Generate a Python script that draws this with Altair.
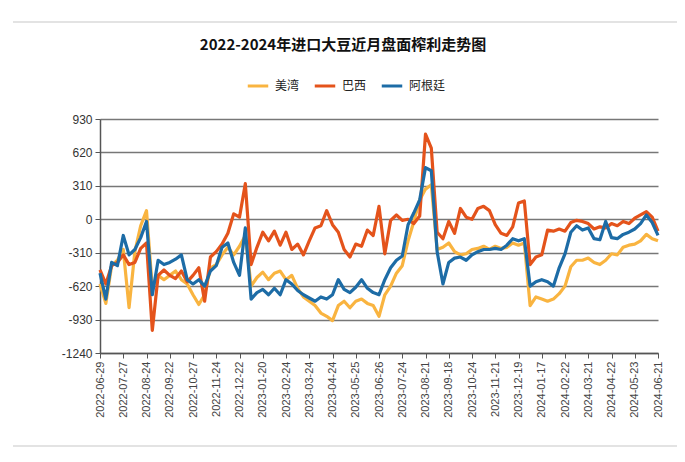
import altair as alt
import pandas as pd

# x positions: trading-day index, one sample every 5 trading days
step = 5
date_labels = ["2022-06-29", "2022-07-27", "2022-08-24", "2022-09-22", "2022-10-27",
               "2022-11-24", "2022-12-22", "2023-01-20", "2023-02-24", "2023-03-24",
               "2023-04-24", "2023-05-25", "2023-06-26", "2023-07-24", "2023-08-21",
               "2023-09-18", "2023-10-24", "2023-11-21", "2023-12-19", "2024-01-17",
               "2024-02-22", "2024-03-21", "2024-04-22", "2024-05-23", "2024-06-21"]

us_gulf = [-600, -780, -430, -380, -280, -820, -300, -60, 80, -640,
           -520, -560, -520, -480, -560, -600, -700, -790, -700, -450,
           -420, -330, -260, -330, -250, -150, -620, -540, -490, -560,
           -500, -480, -560, -520, -640, -720, -760, -800, -870, -900,
           -940, -800, -760, -820, -760, -740, -780, -800, -900, -700,
           -620, -500, -430, -200, -20, 180, 280, 320, -280, -260,
           -220, -300, -330, -320, -280, -270, -250, -280, -250, -270,
           -260, -220, -240, -220, -800, -720, -740, -760, -740, -690,
           -620, -440, -380, -380, -360, -400, -420, -380, -320, -330,
           -260, -240, -230, -200, -140, -180, -200]

brazil = [-470, -600, -430, -400, -330, -420, -400, -270, -220, -1030,
          -520, -470, -520, -550, -480, -580, -520, -450, -760, -350,
          -300, -230, -130, 50, 20, 330, -420, -260, -120, -200,
          -110, -240, -120, -280, -230, -330, -200, -80, -60, 80,
          -50, -120, -280, -350, -230, -250, -100, -150, 120, -320,
          -10, 40, -10, 0, -40, 30, 790, 660, -120, -180,
          -20, -130, 100, 20, 0, 100, 120, 80, -50, -130,
          -150, -70, 150, 170, -420, -350, -330, -100, -110, -90,
          -110, -30, -10, -20, -40, -90, -70, -80, -40, -60,
          -20, -40, 10, 40, 70, 20, -110]

argentina = [-500, -740, -400, -430, -150, -330, -280, -170, -20, -700,
             -380, -420, -400, -370, -330, -560, -600, -560, -620, -480,
             -430, -260, -220, -400, -520, -80, -740, -680, -650, -700,
             -640, -700, -560, -600, -660, -700, -730, -760, -720, -740,
             -700, -560, -650, -680, -630, -560, -640, -680, -700, -560,
             -450, -380, -340, -50, 60, 180, 480, 450, -300, -600,
             -400, -360, -350, -380, -330, -300, -280, -280, -270, -280,
             -240, -180, -200, -180, -620, -580, -560, -580, -620, -450,
             -320, -120, -60, -100, -80, -180, -190, -20, -170, -180,
             -140, -120, -90, -40, 40, -30, -150]

series_names = ["美湾", "巴西", "阿根廷"]
series_colors = ["#F9B440", "#E4531B", "#1D6CA6"]
y_ticks = [-1240, -930, -620, -310, 0, 310, 620, 930]

rows = []
for order, (name, vals) in enumerate(zip(series_names, [us_gulf, brazil, argentina])):
    for k, v in enumerate(vals):
        rows.append({"idx": k * step, "value": v, "series": name, "ord": order})
df = pd.DataFrame(rows)

label_expr = "[" + ",".join("'%s'" % d for d in date_labels) + "][round(datum.value/20)]"
n_int = len(date_labels) - 1

lines = alt.Chart(df).mark_line(strokeWidth=3.2, strokeJoin="round").encode(
    x=alt.X("idx:Q",
            scale=alt.Scale(domain=[0, n_int * 20], nice=False, zero=False),
            axis=alt.Axis(values=[i * 20 for i in range(len(date_labels))],
                          labelExpr=label_expr, labelAngle=-90, labelFontSize=11,
                          labelColor="#444", labelFont="Liberation Sans",
                          grid=False, tickSize=5, tickColor="#555",
                          domainColor="#555", domainWidth=1.5, title=None,
                          labelPadding=3)),
    y=alt.Y("value:Q",
            scale=alt.Scale(domain=[-1240, 930], nice=False, zero=False),
            axis=alt.Axis(values=y_ticks, labelFontSize=12, labelColor="#333",
                          labelFont="Liberation Sans", gridColor="#777",
                          gridWidth=1.5, tickSize=5, tickColor="#555",
                          domainColor="#555", domainWidth=1.5, title=None,
                          labelExpr="'' + datum.value", labelPadding=3)),
    color=alt.Color("series:N",
                    scale=alt.Scale(domain=series_names, range=series_colors),
                    sort=series_names,
                    legend=alt.Legend(title=None, orient="none", direction="horizontal",
                                      legendX=146, legendY=-45, symbolType="stroke",
                                      symbolSize=420, symbolStrokeWidth=3,
                                      labelFontSize=12, labelFont="Noto Sans CJK SC",
                                      labelColor="#222", columnPadding=8,
                                      labelOffset=5)),
    order=alt.Order("ord:Q"),
    detail="series:N",
)

deco = pd.DataFrame({"ypix": [-97, 327]})
rules = alt.Chart(deco).mark_rule(color="#e3e3e3", strokeWidth=2).encode(
    x=alt.value(-87), x2=alt.value(600), y=alt.value(-97)
)
rules2 = alt.Chart(deco).mark_rule(color="#e3e3e3", strokeWidth=2).encode(
    x=alt.value(-87), x2=alt.value(600), y=alt.value(327)
)

chart = alt.layer(rules, rules2, lines).properties(
    width=558, height=234,
    title=alt.TitleParams("2022-2024年进口大豆近月盘面榨利走势图",
                          font="Noto Sans CJK SC", fontSize=15, fontWeight="bold",
                          color="#111", anchor="middle", dx=-36, offset=-32),
    padding={"left": 92, "top": 111, "right": 19, "bottom": 100},
    autosize=alt.AutoSizeParams(type="none"),
).configure_view(stroke=None)

chart.save("out.html", embed_options={"renderer": "svg", "actions": False})
